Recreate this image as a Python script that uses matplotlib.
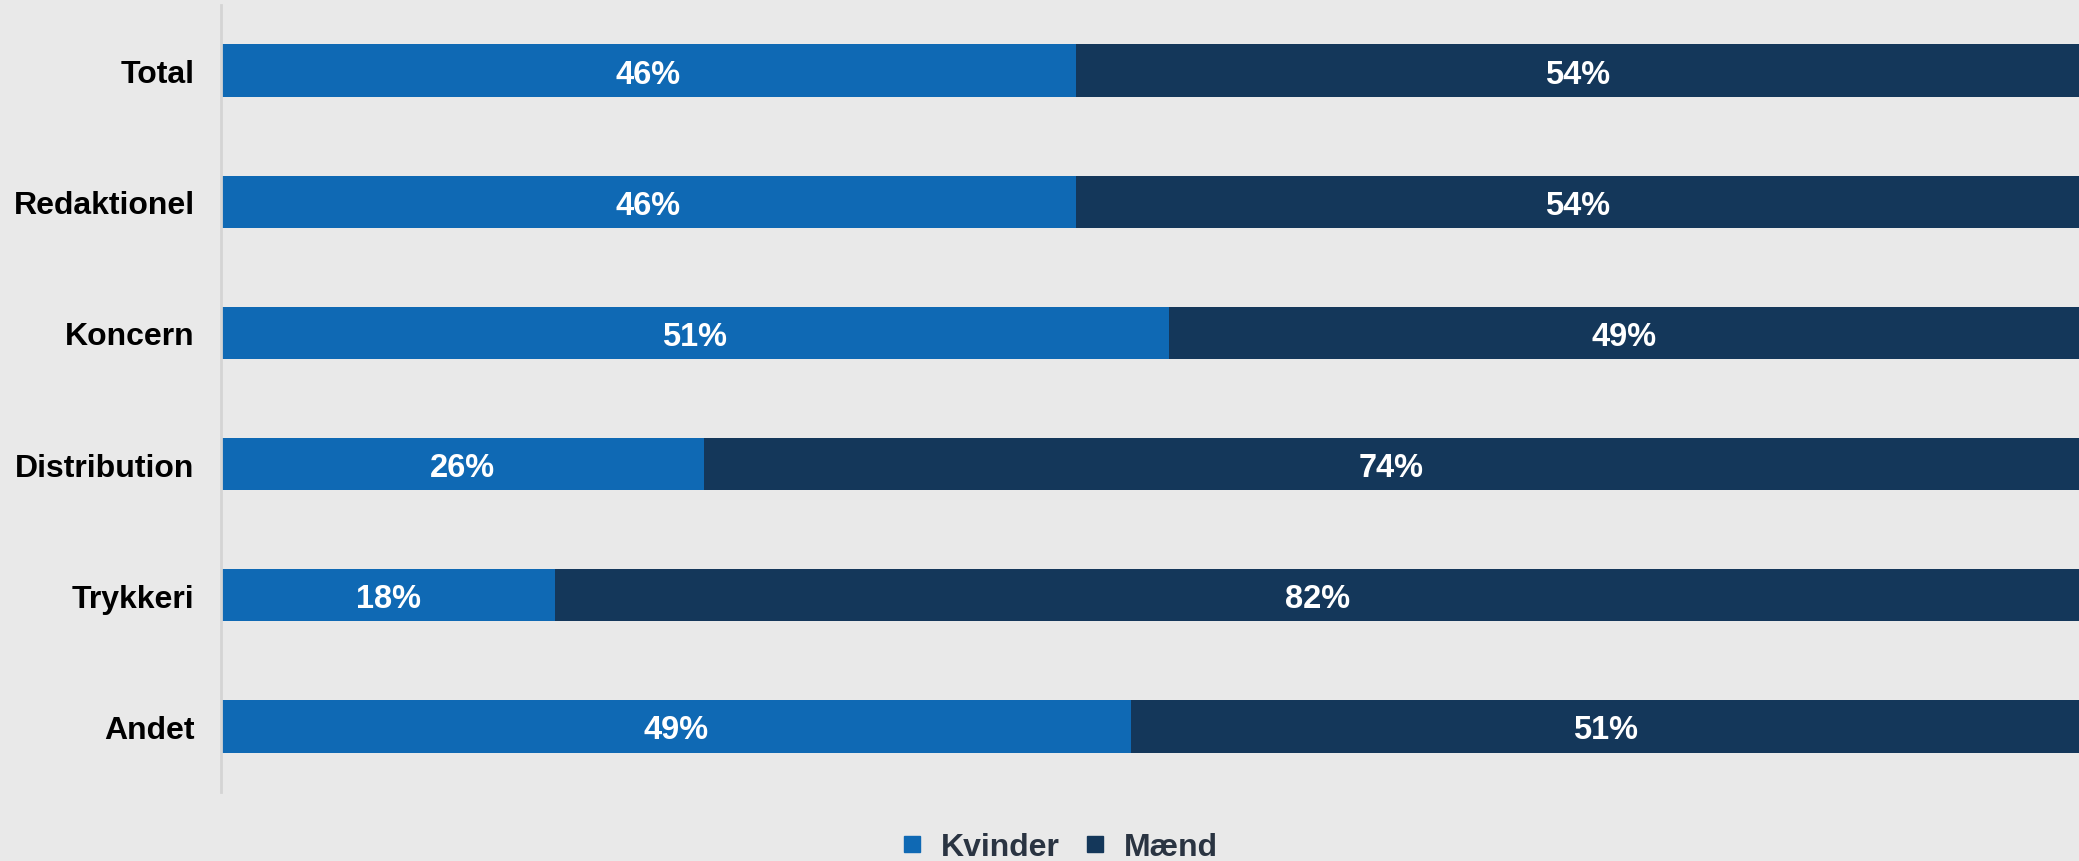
import matplotlib
matplotlib.use("Agg")
import matplotlib.pyplot as plt
from matplotlib.lines import Line2D

plt.rcParams['font.family'] = ['Liberation Sans', 'DejaVu Sans']

categories = ['Total', 'Redaktionel', 'Koncern', 'Distribution', 'Trykkeri', 'Andet']
kvinder = [46, 46, 51, 26, 18, 49]
maend = [54, 54, 49, 74, 82, 51]
series_names = ['Kvinder', 'Mænd']
colors = ['#0f69b4', '#14375a']
bg = '#e9e9e9'

fig = plt.figure(figsize=(20.79, 8.62), dpi=100, facecolor=bg)
ax = fig.add_axes([221 / 2079, 1 - 793 / 862, 1 - 221 / 2079, (793 - 6) / 862])
ax.set_facecolor(bg)

ypos = range(len(categories))
ax.barh(ypos, kvinder, height=0.4, color=colors[0], label=series_names[0])
ax.barh(ypos, maend, left=kvinder, height=0.4, color=colors[1], label=series_names[1])

# value labels centred in each segment
for i in ypos:
    ax.text(kvinder[i] / 2, i, f"{kvinder[i]}%", ha='center', va='center_baseline',
            color='white', fontsize=23.5, fontweight='bold')
    ax.text(kvinder[i] + maend[i] / 2, i, f"{maend[i]}%", ha='center', va='center_baseline',
            color='white', fontsize=23.5, fontweight='bold')

ax.set_xlim(0, 100)
ax.set_ylim(len(categories) - 0.5, -0.5)
ax.set_yticks(list(ypos))
ax.set_yticklabels(categories, fontsize=23, fontweight='bold', color='black')
ax.tick_params(axis='y', length=0, pad=19)
ax.set_xticks([])
for side in ['top', 'right', 'bottom']:
    ax.spines[side].set_visible(False)
ax.spines['left'].set_color('#d4d4d4')
ax.spines['left'].set_linewidth(2)

handles = [Line2D([], [], marker='s', linestyle='', markersize=12, color=c) for c in colors]
fig.legend(handles, series_names, loc='center', bbox_to_anchor=(1060 / 2079, 1 - 848 / 862),
           ncol=2, frameon=False, handlelength=0.6, handletextpad=0.6, columnspacing=0.8,
           prop={'size': 23, 'weight': 'bold'}, labelcolor='#2a3442')

fig.savefig('out.png', dpi=100, facecolor=bg)
